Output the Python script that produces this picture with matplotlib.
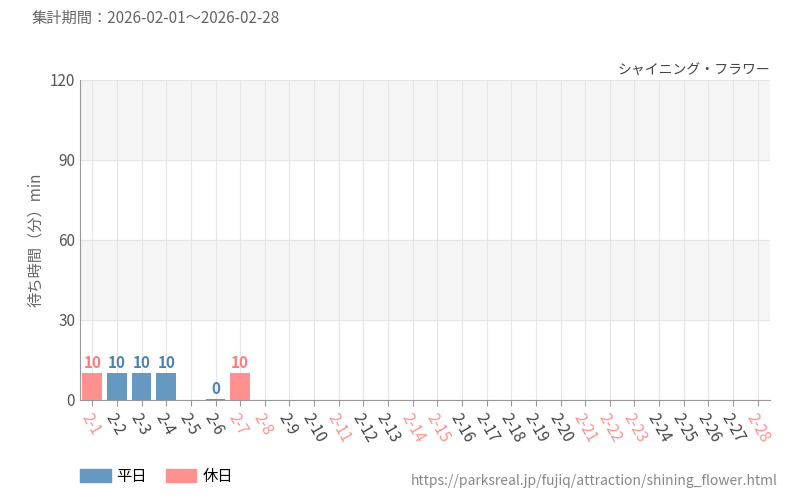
import matplotlib.pyplot as plt
import numpy as np

plt.rcParams['font.family'] = ['Noto Sans CJK JP', 'DejaVu Sans']

days = ["2-%d" % d for d in range(1, 29)]
holidays = ["2-1", "2-7", "2-8", "2-11", "2-14", "2-15", "2-21", "2-22", "2-23", "2-28"]
waits = [10, 10, 10, 10, None, 0, 10] + [None] * 21

blue = "#6699c2"
red = "#ff9090"
blue_txt = "#4f81b0"
red_txt = "#ff7a7a"

fig = plt.figure(figsize=(8, 5), dpi=100)
ax = fig.add_axes([0.1, 0.2, 0.8625, 0.64])

x = np.arange(len(days))
for i, (d, w) in enumerate(zip(days, waits)):
    if w is None:
        continue
    hol = d in holidays
    ax.bar(i, max(w, 0.3), width=0.8, color=red if hol else blue, zorder=3)
    ax.text(i, w + 1, str(w), ha='center', va='bottom', fontsize=11,
            fontweight='bold', color=red_txt if hol else blue_txt, zorder=4)

ax.set_xlim(-0.5, len(days) - 0.5)
ax.set_ylim(0, 120)
ax.axhspan(30, 60, color='#f5f5f5', zorder=0)
ax.axhspan(90, 120, color='#f5f5f5', zorder=0)
ax.set_yticks([0, 30, 60, 90, 120])
ax.tick_params(axis='y', length=0, labelsize=11, colors='#555555')
ax.set_xticks(x)
ax.set_xticklabels(days, rotation=-60, ha='left', rotation_mode='anchor', fontsize=11)
for lbl in ax.get_xticklabels():
    lbl.set_color(red if lbl.get_text() in holidays else '#444444')
ax.tick_params(axis='x', length=4, color='#999999')
ax.grid(True, color='#e6e6e6', linewidth=0.8, zorder=1)
for s in ['top', 'right']:
    ax.spines[s].set_visible(False)
ax.spines['left'].set_color('#999999')
ax.spines['bottom'].set_color('#999999')
ax.set_ylabel("待ち時間（分）min", fontsize=11, color='#666666')

fig.text(0.04, 0.955, "集計期間：2026-02-01～2026-02-28", fontsize=11, color='#666666')
fig.text(0.9625, 0.85, "シャイニング・フラワー", fontsize=10, color='#444444', ha='right')
fig.text(0.9725, 0.03, "https://parksreal.jp/fujiq/attraction/shining_flower.html",
         fontsize=10, color='#888888', ha='right')

fig.legend(handles=[plt.Rectangle((0, 0), 1, 1, color=blue),
                    plt.Rectangle((0, 0), 1, 1, color=red)],
           labels=["平日", "休日"], loc='lower left', bbox_to_anchor=(0.1, 0.03),
           ncol=2, frameon=False, fontsize=11, handlelength=2.0, handleheight=0.9,
           handletextpad=0.4, columnspacing=1.2, borderpad=0, borderaxespad=0)

fig.savefig("out.png")
